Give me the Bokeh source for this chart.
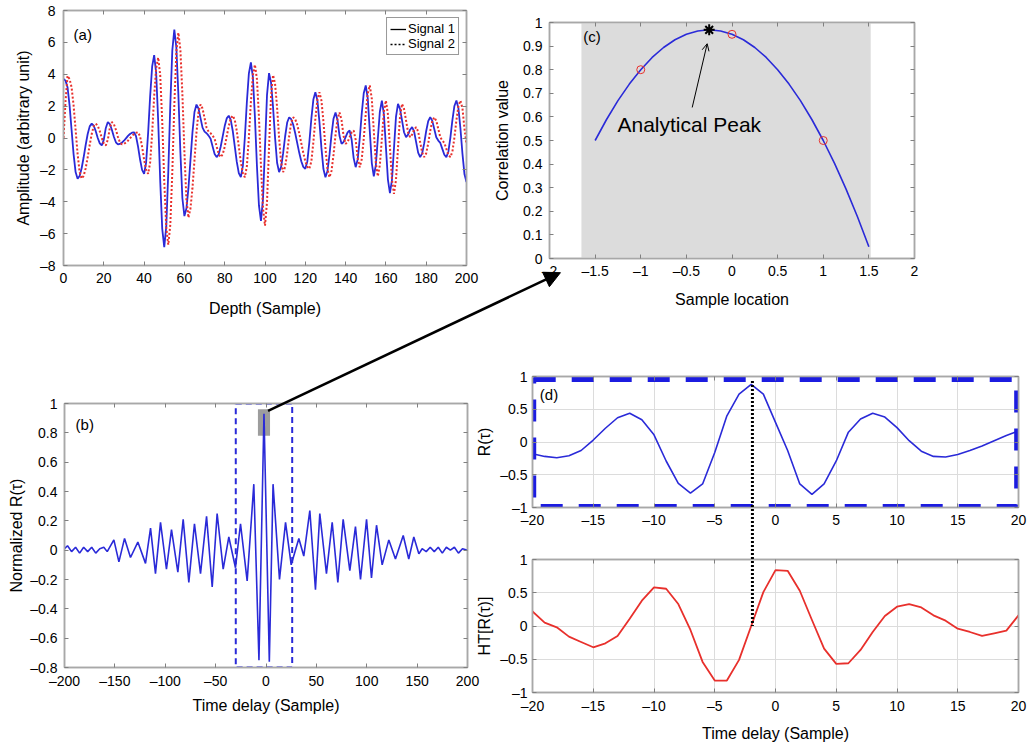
from bokeh.plotting import figure
from bokeh.models import (Range1d, LinearAxis, FixedTicker, Legend, LegendItem, Arrow,
                          NormalHead, OpenHead, Label, CustomJSTickFormatter,
                          CustomLabelingPolicy)
from bokeh.layouts import column
from bokeh.embed import file_html
from bokeh.resources import INLINE

FONT = "Liberation Sans"
GRAY = "#a8a8a8"
BLUE = "#2a2ad8"
RED = "#e8302c"
NAN = float("nan")

# ---------------- data ----------------
depth = list(range(0, 201))
signal1 = [3.70, 3.60, 3.19, 2.06, 0.53, -1.01, -2.14, -2.55, -2.38, -1.90,
           -1.21, -0.44, 0.25, 0.73, 0.90, 0.77, 0.43, 0.00, -0.34, -0.47,
           -0.10, 0.63, 1.00, 0.87, 0.52, 0.08, -0.27, -0.40, -0.37, -0.29,
           -0.17, -0.02, 0.13, 0.25, 0.33, 0.36, 0.11, -0.54, -1.35, -2.00,
           -2.25, -1.54, 0.32, 2.63, 4.49, 5.20, 4.05, 1.04, -2.69, -5.70,
           -6.85, -5.55, -2.13, 2.08, 5.50, 6.80, 5.68, 2.76, -0.86, -3.78,
           -4.90, -4.43, -3.15, -1.40, 0.35, 1.63, 2.10, 1.85, 1.25, 0.65,
           0.40, 0.30, 0.15, -0.05, -0.53, -1.00, -1.20, -1.03, -0.55, 0.10,
           0.75, 1.23, 1.40, 1.14, 0.44, -0.53, -1.50, -2.20, -2.46, -1.77,
           0.03, 2.26, 4.06, 4.75, 3.80, 1.31, -1.76, -4.25, -5.20, -3.84,
           -0.57, 2.71, 4.07, 3.48, 1.92, 0.01, -1.55, -2.14, -1.81, -0.95,
           0.11, 0.97, 1.30, 1.18, 0.83, 0.30, -0.32, -0.93, -1.46, -1.81,
           -1.93, -1.47, -0.27, 1.21, 2.41, 2.87, 2.36, 1.03, -0.62, -1.95,
           -2.46, -2.07, -1.06, 0.20, 1.21, 1.60, 1.11, 0.12, -0.37, -0.25,
           0.05, 0.35, 0.47, -0.11, -1.26, -1.83, -1.34, -0.06, 1.53, 2.81,
           3.30, 2.47, 0.45, -1.57, -2.40, -1.70, -0.03, 1.66, 2.35, 1.50,
           -0.56, -2.61, -3.46, -2.64, -0.66, 1.32, 2.14, 1.83, 1.10, 0.36,
           0.05, 0.21, 0.52, 0.68, 0.41, -0.26, -0.92, -1.20, -0.96, -0.34,
           0.44, 1.06, 1.30, 1.09, 0.57, 0.05, -0.16, -0.31, -0.68, -1.05,
           -1.20, -0.86, 0.03, 1.12, 2.01, 2.35, 1.86, 0.58, -1.00, -2.28,
           -2.77]
signal2 = [0.00, 2.30, 3.90, 3.70, 3.19, 2.06, 0.53, -1.01, -2.14, -2.55,
           -2.38, -1.90, -1.21, -0.44, 0.25, 0.73, 0.90, 0.77, 0.43, 0.00,
           -0.34, -0.47, -0.10, 0.63, 1.00, 0.87, 0.52, 0.08, -0.27, -0.40,
           -0.37, -0.29, -0.17, -0.02, 0.13, 0.25, 0.33, 0.36, 0.11, -0.54,
           -1.35, -2.00, -2.25, -1.54, 0.32, 2.63, 4.40, 5.05, 3.95, 1.04,
           -2.69, -5.60, -6.70, -5.45, -2.13, 2.08, 5.40, 6.60, 5.55, 2.76,
           -0.86, -3.85, -5.00, -4.43, -3.15, -1.40, 0.35, 1.63, 2.10, 1.85,
           1.25, 0.65, 0.40, 0.30, 0.15, -0.05, -0.53, -1.00, -1.20, -1.03,
           -0.55, 0.10, 0.75, 1.23, 1.40, 1.14, 0.44, -0.53, -1.50, -2.20,
           -2.46, -1.77, 0.03, 2.26, 3.95, 4.60, 3.70, 1.31, -1.76, -4.40,
           -5.50, -4.00, -0.57, 2.65, 3.95, 3.40, 1.92, 0.01, -1.55, -2.14,
           -1.81, -0.95, 0.11, 0.97, 1.30, 1.18, 0.83, 0.30, -0.32, -0.93,
           -1.46, -1.81, -1.93, -1.47, -0.27, 1.21, 2.41, 2.87, 2.36, 1.03,
           -0.62, -1.95, -2.46, -2.07, -1.06, 0.20, 1.21, 1.60, 1.11, 0.12,
           -0.37, -0.25, 0.05, 0.35, 0.47, -0.11, -1.26, -1.83, -1.34, -0.06,
           1.53, 2.81, 3.30, 2.47, 0.45, -1.57, -2.40, -1.70, -0.03, 1.66,
           2.35, 1.50, -0.56, -2.61, -3.50, -2.64, -0.66, 1.32, 2.14, 1.83,
           1.10, 0.36, 0.05, 0.21, 0.52, 0.68, 0.41, -0.26, -0.92, -1.20,
           -0.96, -0.34, 0.44, 1.06, 1.30, 1.09, 0.57, 0.05, -0.16, -0.31,
           -0.68, -1.05, -1.20, -0.86, 0.03, 1.12, 2.01, 2.35, 1.86, 0.58,
           -0.40]

lag_b = [-200, -197, -193, -189, -185, -181, -177, -173, -169, -165, -161, -157.6,
         -151, -146, -140.4, -134.5, -127.2, -119.6, -114.6, -109.7, -104.7, -98.8,
         -93.8, -87.5, -82.2, -76.6, -71, -65, -59, -53.4, -48.5, -42.5, -36.9,
         -30.3, -25.3, -18.7, -12.1, -7, -2, 3.3, 7, 13.4, 19.4, 25, 32.6, 37.5,
         43.5, 49.1, 53.4, 60, 65.7, 71.3, 76.6, 83.2, 88.8, 93.8, 99.8, 104.7,
         109.7, 115.3, 121.9, 128.5, 136.2, 141.7, 146.7, 151.7, 155, 159, 163,
         167, 171, 175, 179, 183, 187, 191, 195, 200]
r_b = [0.01, 0.03, -0.01, 0.02, -0.02, 0.02, -0.01, 0.02, -0.02, 0.01, 0.02, -0.01,
       0.07, -0.08, 0.08, -0.05, 0.055, -0.09, 0.15, -0.16, 0.19, -0.13,
       0.14, -0.15, 0.21, -0.22, 0.18, -0.16, 0.23, -0.25, 0.25, -0.13, 0.09,
       -0.12, 0.18, -0.21, 0.45, -0.75, 0.93, -0.76, 0.45, -0.20, 0.19, -0.10, 0.08, -0.04,
       0.27, -0.27, 0.25, -0.16, 0.19, -0.22, 0.21, -0.14, 0.16, -0.20, 0.21, -0.19,
       0.17, -0.10, 0.07, -0.06, 0.10, -0.06, 0.09, -0.025, 0.01, -0.01, 0.02,
       -0.01, 0.02, -0.02, 0.02, 0.00, 0.02, -0.02, 0.01, 0.00]
zoom_box_b = dict(left=-30, right=26, bottom=-0.8, top=1.0)
peak_box_b = dict(left=-8, right=4, bottom=0.78, top=0.96)

sample_loc = [-1.5, -1.375, -1.25, -1.125, -1.0, -0.875, -0.75, -0.625, -0.5,
              -0.375, -0.25, -0.125, 0.0, 0.125, 0.25, 0.375, 0.5, 0.625, 0.75,
              0.875, 1.0, 1.125, 1.25, 1.375, 1.5]
corr_curve = [0.500, 0.589, 0.669, 0.739, 0.800, 0.852, 0.894, 0.927, 0.950,
              0.964, 0.969, 0.964, 0.950, 0.927, 0.894, 0.852, 0.800, 0.739,
              0.669, 0.589, 0.500, 0.402, 0.294, 0.177, 0.050]
sample_pts = [-1, 0, 1]
corr_pts = [0.80, 0.95, 0.50]
peak_loc = [-0.25]
peak_val = [0.969]
shade_c = dict(left=-1.65, right=1.52)

tau = list(range(-20, 21))
r_tau = [-0.18, -0.22, -0.24, -0.21, -0.13, 0.03, 0.21, 0.37, 0.44, 0.34, 0.11,
         -0.29, -0.63, -0.78, -0.64, -0.16, 0.40, 0.73, 0.88, 0.73, 0.30, -0.13,
         -0.64, -0.80, -0.64, -0.29, 0.15, 0.35, 0.44, 0.38, 0.22, 0.02, -0.14,
         -0.22, -0.23, -0.19, -0.13, -0.06, 0.02, 0.10, 0.17]
ht_r = [0.22, 0.05, -0.02, -0.16, -0.24, -0.32, -0.26, -0.15, 0.11, 0.38, 0.58,
        0.56, 0.33, -0.06, -0.54, -0.82, -0.82, -0.51, 0.00, 0.51, 0.84, 0.83,
        0.53, 0.09, -0.34, -0.57, -0.56, -0.36, -0.09, 0.15, 0.29, 0.33, 0.28,
        0.16, 0.08, -0.04, -0.09, -0.15, -0.11, -0.07, 0.16]
peak_tau = -1.9

# ---------------- layout geometry (plot frames in page pixels) ----------------
BL, BT, BR, BB = 100, 30, 40, 90
PAGE_W, PAGE_H = 1033, 746
GEO = {
    "a": dict(fl=63, ft=10, fw=403, fh=255, xr=(0, 200), yr=(-8, 8)),
    "b": dict(fl=64, ft=403, fw=403, fh=264, xr=(-200, 200), yr=(-0.8, 1.0)),
    "c": dict(fl=549, ft=22, fw=365, fh=236, xr=(-2, 2), yr=(0, 1)),
    "d1": dict(fl=532, ft=376, fw=486, fh=131, xr=(-20, 20), yr=(-1, 1)),
    "d2": dict(fl=532, ft=559, fw=486, fh=133, xr=(-20, 20), yr=(-1, 1)),
}

FMT_CODE = """
const v = Math.round(tick*1000)/1000;
return v < 0 ? '\u2013' + String(-v) : String(v);
"""
HIDE_CODE = """
const all = Array.from(indices);
for (const i of all) indices.unset(i);
return indices;
"""


def to_px(key, x, y):
    g = GEO[key]
    fx = g["fl"] + (x - g["xr"][0]) / (g["xr"][1] - g["xr"][0]) * g["fw"]
    fy = g["ft"] + (g["yr"][1] - y) / (g["yr"][1] - g["yr"][0]) * g["fh"]
    return fx, fy


def make_panel(key, xticks, yticks, xlabel, ylabel, grid=False,
               xtick_standoff=6, xlabel_standoff=8, ytick_standoff=7, ylabel_standoff=10):
    g = GEO[key]
    p = figure(width=BL + g["fw"] + BR, height=BT + g["fh"] + BB,
               x_range=Range1d(*g["xr"]), y_range=Range1d(*g["yr"]),
               output_backend="svg", toolbar_location=None,
               min_border_left=BL, min_border_right=BR,
               min_border_top=BT, min_border_bottom=BB,
               background_fill_color="white", border_fill_alpha=0,
               outline_line_color=GRAY, outline_line_width=1.5)
    p.styles = {"position": "absolute", "left": "%dpx" % (g["fl"] - BL),
                "top": "%dpx" % (g["ft"] - BT), "z-index": "1"}
    p.add_layout(LinearAxis(), "above")
    p.add_layout(LinearAxis(), "right")
    for ax in p.axis:
        ax.axis_line_color = GRAY
        ax.axis_line_width = 1.5
        ax.major_tick_in = 4
        ax.major_tick_out = 0
        ax.major_tick_line_color = "#808080"
        ax.minor_tick_in = 0
        ax.minor_tick_out = 0
        ax.major_label_text_font = FONT
        ax.major_label_text_font_size = "14px"
        ax.major_label_text_color = "black"
        ax.axis_label_text_font = FONT
        ax.axis_label_text_font_size = "16px"
        ax.axis_label_text_font_style = "normal"
        ax.axis_label_text_color = "black"
        ax.formatter = CustomJSTickFormatter(code=FMT_CODE)
    for ax in p.below + p.above:
        ax.ticker = FixedTicker(ticks=xticks)
    for ax in p.left + p.right:
        ax.ticker = FixedTicker(ticks=yticks)
    for ax in p.above + p.right:
        ax.major_label_policy = CustomLabelingPolicy(code=HIDE_CODE)
        ax.major_label_text_font_size = "2px"
        ax.major_label_standoff = 0
    p.below[0].axis_label = xlabel
    p.left[0].axis_label = ylabel
    p.below[0].major_label_standoff = xtick_standoff
    p.below[0].axis_label_standoff = xlabel_standoff
    p.left[0].major_label_standoff = ytick_standoff
    p.left[0].axis_label_standoff = ylabel_standoff
    if grid:
        p.xgrid.grid_line_color = "#dcdcdc"
        p.ygrid.grid_line_color = "#dcdcdc"
    else:
        p.xgrid.visible = False
        p.ygrid.visible = False
    return p


def tag(p, x, y, text, size="15px"):
    p.add_layout(Label(x=x, y=y, text=text, text_font=FONT, text_font_size=size,
                       text_color="black", text_baseline="middle"))


# ---------------- panel (a) ----------------
pa = make_panel("a", list(range(0, 201, 20)), list(range(-8, 9, 2)),
                "Depth (Sample)", "Amplitude (arbitrary unit)",
                xtick_standoff=7, xlabel_standoff=14, ytick_standoff=8, ylabel_standoff=5)
pa.line(depth, signal1, line_color=BLUE, line_width=1.8)
pa.line(depth, signal2, line_color=RED, line_width=2, line_dash="2 2")
l1 = pa.line(x=[NAN], y=[NAN], line_color="black", line_width=1.3)
l2 = pa.line(x=[NAN], y=[NAN], line_color="black", line_width=1.3, line_dash="2 2")
leg = Legend(items=[LegendItem(label="Signal 1", renderers=[l1]),
                    LegendItem(label="Signal 2", renderers=[l2])],
             location="top_right", label_text_font=FONT, label_text_font_size="13px",
             label_text_color="black",
             glyph_width=16, glyph_height=12, label_height=12, label_standoff=2,
             spacing=0, padding=3, margin=7, border_line_color="#333333",
             border_line_width=1, background_fill_alpha=1)
pa.add_layout(leg)
tag(pa, 5, 6.5, "(a)")

# ---------------- panel (b) ----------------
pb = make_panel("b", list(range(-200, 201, 50)),
                [-0.8, -0.6, -0.4, -0.2, 0, 0.2, 0.4, 0.6, 0.8, 1.0],
                "Time delay (Sample)", "Normalized R(\u03c4)",
                xtick_standoff=5, xlabel_standoff=5, ytick_standoff=7, ylabel_standoff=2)
pb.quad(left=[peak_box_b["left"]], right=[peak_box_b["right"]],
        bottom=[peak_box_b["bottom"]], top=[peak_box_b["top"]],
        fill_color="#8c8c8c", fill_alpha=0.85, line_color=None)
pb.line(lag_b, r_b, line_color=BLUE, line_width=1.6)
pb.quad(left=[zoom_box_b["left"]], right=[zoom_box_b["right"]],
        bottom=[zoom_box_b["bottom"]], top=[zoom_box_b["top"]],
        fill_alpha=0, line_color=BLUE, line_width=2, line_dash="6 4")
tag(pb, -189, 0.86, "(b)")

# ---------------- panel (c) ----------------
pc = make_panel("c", [-2, -1.5, -1, -0.5, 0, 0.5, 1, 1.5, 2],
                [0, 0.1, 0.2, 0.3, 0.4, 0.5, 0.6, 0.7, 0.8, 0.9, 1.0],
                "Sample location", "Correlation value",
                xtick_standoff=4, xlabel_standoff=9, ytick_standoff=7, ylabel_standoff=9)
pc.quad(left=[shade_c["left"]], right=[shade_c["right"]], bottom=[0], top=[1],
        fill_color="#dcdcdc", line_color=None)
pc.line(sample_loc, corr_curve, line_color=BLUE, line_width=1.6)
pc.scatter(sample_pts, corr_pts, marker="circle", size=8, fill_alpha=0,
           line_color=RED, line_width=1)
pc.scatter(peak_loc, peak_val, marker="asterisk", size=11, line_color="black",
           line_width=2)
pc.add_layout(Arrow(end=OpenHead(size=7, line_color="black", line_width=1),
                    x_start=-0.436, y_start=0.64, x_end=-0.272, y_end=0.91,
                    line_color="black", line_width=1))
tag(pc, -1.255, 0.568, "Analytical Peak", size="21px")
tag(pc, -1.63, 0.94, "(c)")

# ---------------- panel (d) ----------------
d_ticks_x = list(range(-20, 21, 5))
d_ticks_y = [-1, -0.5, 0, 0.5, 1]
pd1 = make_panel("d1", d_ticks_x, d_ticks_y, None, "R(\u03c4)", grid=True,
                 xtick_standoff=4, ytick_standoff=5, ylabel_standoff=4)
pd1.line(tau, r_tau, line_color=BLUE, line_width=1.6)
pd1.quad(left=[-19.9], right=[19.85], bottom=[-0.985], top=[0.955], fill_alpha=0,
         line_color="#1c1ce0", line_width=5, line_dash="22 16")
tag(pd1, -19.4, 0.72, "(d)")

pd2 = make_panel("d2", d_ticks_x, d_ticks_y, "Time delay (Sample)", "HT[R(\u03c4)]",
                 grid=True, xtick_standoff=5, xlabel_standoff=8, ytick_standoff=5,
                 ylabel_standoff=4)
pd2.line(tau, ht_r, line_color=RED, line_width=1.8)

# ---------------- overlay (connectors between panels) ----------------
# The column aligns the frames' left/right borders of its children (BL / BR),
# so the overlay's frame spans page pixels BL .. PAGE_W - BR; its x range is
# set to exactly that span so that data units equal page pixels.
ov = figure(width=PAGE_W, height=PAGE_H, x_range=Range1d(BL, PAGE_W - BR),
            y_range=Range1d(PAGE_H, 0), x_axis_type=None, y_axis_type=None,
            output_backend="svg", toolbar_location=None,
            min_border_left=BL, min_border_right=BR, min_border_top=0, min_border_bottom=0,
            background_fill_alpha=0, border_fill_alpha=0, outline_line_color=None)
ov.grid.visible = False
ov.styles = {"position": "absolute", "left": "0px", "top": "0px",
             "pointer-events": "none", "z-index": "50"}

sx, sy = to_px("b", 2, 0.95)
ex, ey = to_px("c", -1.88, -0.06)
ov.add_layout(Arrow(end=NormalHead(size=16, fill_color="black", line_color="black"),
                    x_start=sx, y_start=sy, x_end=ex, y_end=ey,
                    line_color="black", line_width=2.5))
tx, ty = to_px("d1", peak_tau, 0.93)
bx, by = to_px("d2", peak_tau, 0.0)
ov.line([tx, bx], [ty, by], line_color="black", line_width=3, line_dash="2 2")

root = column(pa, pb, pc, pd1, pd2, ov, width=PAGE_W, height=PAGE_H)
root.styles = {"position": "relative", "overflow": "hidden",
               "width": "%dpx" % PAGE_W, "height": "%dpx" % PAGE_H}

open("out.html", "w").write(file_html(root, INLINE))
